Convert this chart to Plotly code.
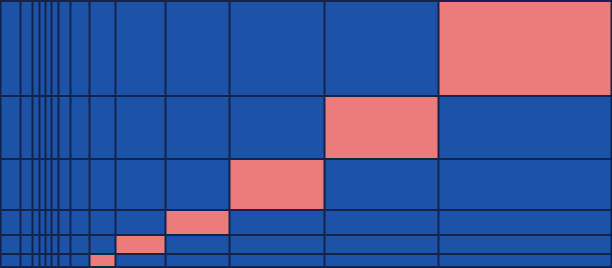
import numpy as np
import plotly.graph_objects as go

# column widths, left to right (data units)
col_widths = [19.5, 12.5, 6.5, 6.0, 6.5, 6.5, 12.5, 19.0, 25.5, 50.5, 64.0, 95.0, 114.0, 173.0]
# row heights, top to bottom (last rows run past the visible area)
row_heights = [95.0, 63.0, 50.5, 25.0, 19.5, 13.0, 12.5, 6.5, 6.5, 6.0, 6.5, 6.5, 12.5, 19.5]
x_start = 0.5
y_start = 1.0

BLUE = "#1c53a8"
PINK = "#eb7c7b"
LINE = "#14234a"

col_edges = list(x_start + np.concatenate([[0], np.cumsum(col_widths)]))
row_edges = list(y_start + np.concatenate([[0], np.cumsum(row_heights)]))

n_rows = len(row_heights)
n_cols = len(col_widths)
z = [[1 if j == n_cols - 1 - i else 0 for j in range(n_cols)] for i in range(n_rows)]

fig = go.Figure(go.Heatmap(
    x=col_edges, y=row_edges, z=z,
    colorscale=[[0, BLUE], [1, PINK]], zmin=0, zmax=1,
    showscale=False, xgap=2, ygap=2, hoverinfo="skip",
))
fig.update_layout(
    width=612, height=268, margin=dict(l=0, r=0, t=0, b=0),
    plot_bgcolor=LINE, paper_bgcolor="white",
    xaxis=dict(range=[0, 612], visible=False, fixedrange=True),
    yaxis=dict(range=[268, 0], visible=False, fixedrange=True),
)
fig.write_html("out.html")
